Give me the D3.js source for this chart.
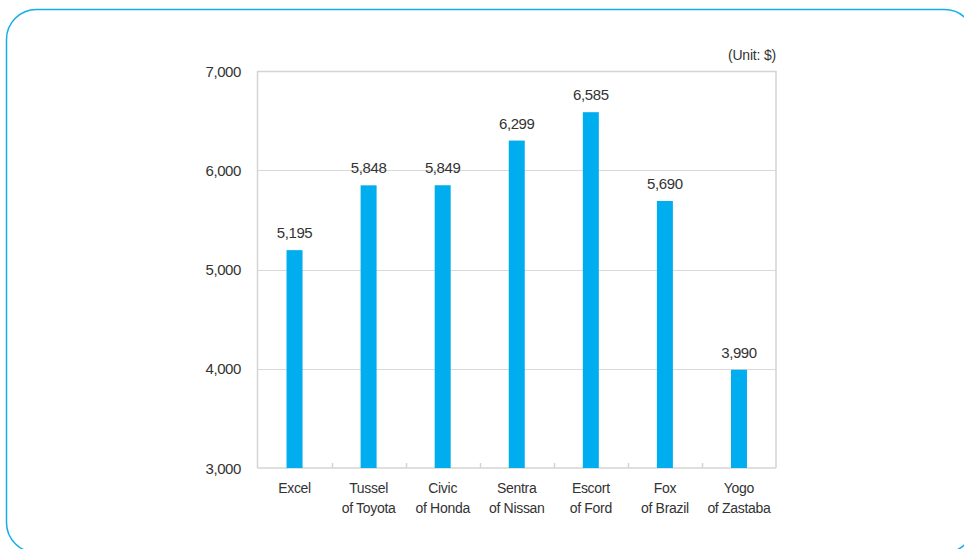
<!DOCTYPE html>
<html>
<head>
<meta charset="utf-8">
<script src="https://cdn.jsdelivr.net/npm/d3@7"></script>
<style>
  html, body { margin: 0; padding: 0; background: #fff; }
  svg { display: block; }
  text { font-family: "Liberation Sans", Arial, sans-serif; fill: #333; }
</style>
</head>
<body>
<svg id="chart" width="964" height="549"></svg>
<script>
const categories = [
  ["Excel"],
  ["Tussel", "of Toyota"],
  ["Civic", "of Honda"],
  ["Sentra", "of Nissan"],
  ["Escort", "of Ford"],
  ["Fox", "of Brazil"],
  ["Yogo", "of Zastaba"]
];
const values = [5195, 5848, 5849, 6299, 6585, 5690, 3990];
const yTicks = [3000, 4000, 5000, 6000, 7000];
const unitLabel = "(Unit: $)";

(function () {
const svg = d3.select("#chart");

// rounded frame
svg.append("rect")
  .attr("x", 6.5).attr("y", 9.5)
  .attr("width", 968).attr("height", 543)
  .attr("rx", 30).attr("ry", 30)
  .attr("fill", "none")
  .attr("stroke", "#12aee9")
  .attr("stroke-width", 1.5);

const pL = 257.5, pR = 776, pT = 71, pB = 468;

const x = d3.scaleBand()
  .domain(d3.range(categories.length))
  .range([pL, pR])
  .paddingInner(0).paddingOuter(0);

const y = d3.scaleLinear().domain([3000, 7000]).range([pB, pT]);

// gridlines
svg.append("g")
  .selectAll("line")
  .data(yTicks.filter(t => t > 3000 && t < 7000))
  .join("line")
  .attr("x1", pL).attr("x2", pR)
  .attr("y1", d => Math.round(y(d)) + 0.5).attr("y2", d => Math.round(y(d)) + 0.5)
  .attr("stroke", "#d9d9d9").attr("stroke-width", 1);

// plot frame (top, left, right)
svg.append("path")
  .attr("d", `M${pL},${pB}V${pT + 0.5}H${pR}V${pB}`)
  .attr("fill", "none")
  .attr("stroke", "#d4d4d4").attr("stroke-width", 1.5);

// bottom axis
svg.append("line")
  .attr("x1", pL).attr("x2", pR)
  .attr("y1", pB).attr("y2", pB)
  .attr("stroke", "#d4d4d4").attr("stroke-width", 1.5);
svg.append("g")
  .selectAll("line")
  .data(d3.range(1, categories.length))
  .join("line")
  .attr("x1", d => Math.round(x(d)) + 0.5).attr("x2", d => Math.round(x(d)) + 0.5)
  .attr("y1", pB).attr("y2", pB - 5)
  .attr("stroke", "#d4d4d4").attr("stroke-width", 1.5);

// y tick labels
svg.append("g")
  .selectAll("text")
  .data(yTicks)
  .join("text")
  .attr("x", 241)
  .attr("y", d => y(d) + 5.5)
  .attr("text-anchor", "end")
  .attr("font-size", 15)
  .attr("letter-spacing", "-0.4")
  .text(d => d3.format(",")(d));

// bars
const barW = 16;
svg.append("g")
  .selectAll("rect")
  .data(values)
  .join("rect")
  .attr("x", (d, i) => x(i) + x.bandwidth() / 2 - barW / 2)
  .attr("y", d => y(d))
  .attr("width", barW)
  .attr("height", d => y(3000) - y(d))
  .attr("fill", "#00aeef");

// value labels
svg.append("g")
  .selectAll("text")
  .data(values)
  .join("text")
  .attr("x", (d, i) => x(i) + x.bandwidth() / 2)
  .attr("y", d => y(d) - 12)
  .attr("text-anchor", "middle")
  .attr("font-size", 15)
  .attr("letter-spacing", "-0.4")
  .text(d => d3.format(",")(d));

// category labels
const cat = svg.append("g")
  .selectAll("text")
  .data(categories)
  .join("text")
  .attr("x", (d, i) => x(i) + x.bandwidth() / 2)
  .attr("y", 493)
  .attr("text-anchor", "middle")
  .attr("font-size", 14)
  .attr("letter-spacing", "-0.3");
cat.selectAll("tspan")
  .data(d => d)
  .join("tspan")
  .attr("x", function() { return d3.select(this.parentNode).attr("x"); })
  .attr("dy", (d, i) => i === 0 ? 0 : 20)
  .text(d => d);

// unit label
svg.append("text")
  .attr("x", 776).attr("y", 60)
  .attr("text-anchor", "end")
  .attr("font-size", 14)
  .attr("letter-spacing", "-0.2")
  .text(unitLabel);
})();
</script>
</body>
</html>
